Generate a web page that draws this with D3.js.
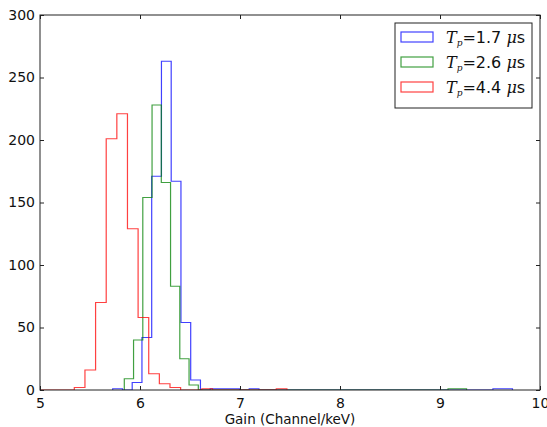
<!DOCTYPE html>
<html>
<head>
<meta charset="utf-8">
<script src="https://cdn.jsdelivr.net/npm/d3@7"></script>
<style>
  body { margin: 0; background: #fff; }
  svg text { font-family: "DejaVu Sans", sans-serif; }
</style>
</head>
<body>
<svg id="chart" width="547" height="427"></svg>
<script>
// Histogram data: bin start, bin width and counts per series
const seriesNames = ['1.7', '2.6', '4.4'];
const seriesColors = ['#0000ff', '#008000', '#ff0000'];

const blueStart = 5.727, blueWidth = 0.0975;
const blueCounts = [1, 0, 6, 42, 171, 263, 167, 54, 8, 0, 1, 1, 1, 0, 1,
  0, 0, 0, 0, 0, 0, 0, 0, 0, 0, 0, 0, 0, 0, 0, 0, 0, 0, 0, 0, 0, 0, 0, 0, 1, 1];

const greenStart = 5.843, greenWidth = 0.0925;
const greenCounts = [9, 40, 154, 228, 166, 83, 25, 4, 0, 0, 0, 0, 0, 0, 0,
  0, 0, 0, 0, 0, 0, 0, 0, 0, 0, 0, 0, 0, 0, 0, 0, 0, 0, 0, 0, 1, 1];

const redStart = 4.918, redWidth = 0.1063;
const redCounts = [0, 0, 0, 0, 2, 16, 70, 201, 221, 129, 58, 13, 5, 2, 0, 0, 1,
  0, 0, 0, 0, 0, 0, 1];

const xTicks = [5, 6, 7, 8, 9, 10];
const yTicks = [0, 50, 100, 150, 200, 250, 300];

const svg = d3.select('#chart');
const margin = { left: 40, right: 7, top: 15, bottom: 37 };
const width = +svg.attr('width');
const height = +svg.attr('height');

const x = d3.scaleLinear().domain([5, 10]).range([margin.left, width - margin.right]);
const y = d3.scaleLinear().domain([0, 300]).range([height - margin.bottom, margin.top]);

svg.append('clipPath').attr('id', 'plot-clip')
  .append('rect')
  .attr('x', x(5)).attr('y', y(300))
  .attr('width', x(10) - x(5)).attr('height', y(0) - y(300));

// step outline the way matplotlib draws histtype='step'
function stepPoints(start, w, counts) {
  const pts = [[start, 0]];
  counts.forEach((c, i) => {
    pts.push([start + i * w, c]);
    pts.push([start + (i + 1) * w, c]);
  });
  pts.push([start + counts.length * w, 0]);
  return pts;
}

const line = d3.line().x(d => x(d[0])).y(d => y(d[1]));
const series = [
  stepPoints(blueStart, blueWidth, blueCounts),
  stepPoints(greenStart, greenWidth, greenCounts),
  stepPoints(redStart, redWidth, redCounts)
];

const plot = svg.append('g').attr('clip-path', 'url(#plot-clip)');
series.forEach((pts, i) => {
  plot.append('path')
    .attr('d', line(pts))
    .attr('fill', 'none')
    .attr('stroke', seriesColors[i])
    .attr('stroke-opacity', 0.75)
    .attr('stroke-width', 1.2);
});

// axes, ticks pointing inward on all four sides
const axisColor = '#222';
const axBottom = svg.append('g').attr('transform', `translate(0,${y(0)})`)
  .call(d3.axisBottom(x).tickValues(xTicks).tickSizeInner(-4).tickSizeOuter(0).tickPadding(8).tickFormat(d3.format('d')));
const axTop = svg.append('g').attr('transform', `translate(0,${y(300)})`)
  .call(d3.axisTop(x).tickValues(xTicks).tickSizeInner(-4).tickSizeOuter(0).tickFormat(''));
const axLeft = svg.append('g').attr('transform', `translate(${x(5)},0)`)
  .call(d3.axisLeft(y).tickValues(yTicks).tickSizeInner(-4).tickSizeOuter(0).tickPadding(5));
const axRight = svg.append('g').attr('transform', `translate(${x(10)},0)`)
  .call(d3.axisRight(y).tickValues(yTicks).tickSizeInner(-4).tickSizeOuter(0).tickFormat(''));

[axBottom, axTop, axLeft, axRight].forEach(g => {
  g.select('.domain').remove();
  g.selectAll('line').attr('stroke', axisColor);
  g.selectAll('text').attr('font-size', 14).attr('fill', '#111')
    .style('font-family', '"DejaVu Sans", sans-serif');
});

svg.append('rect')
  .attr('x', x(5)).attr('y', y(300))
  .attr('width', x(10) - x(5)).attr('height', y(0) - y(300))
  .attr('fill', 'none').attr('stroke', axisColor).attr('stroke-width', 1);

svg.append('text')
  .attr('x', (x(5) + x(10)) / 2)
  .attr('y', height - 3)
  .attr('text-anchor', 'middle')
  .attr('font-size', 13.5)
  .attr('fill', '#111')
  .text('Gain (Channel/keV)');

// legend
const legend = svg.append('g').attr('transform', 'translate(395,23)');
legend.append('rect')
  .attr('width', 137).attr('height', 85)
  .attr('fill', '#fff').attr('stroke', axisColor).attr('stroke-width', 1);

seriesNames.forEach((name, i) => {
  const row = legend.append('g').attr('transform', `translate(0,${14 + i * 25})`);
  row.append('rect')
    .attr('x', 6).attr('y', -5).attr('width', 32).attr('height', 10)
    .attr('fill', 'none').attr('stroke', seriesColors[i])
    .attr('stroke-opacity', 0.75).attr('stroke-width', 1.2);
  const t = row.append('text').attr('x', 51).attr('y', 5.5).attr('font-size', 16).attr('fill', '#111');
  t.append('tspan').attr('font-family', '"DejaVu Serif", serif').attr('font-style', 'italic').text('T');
  t.append('tspan').attr('font-family', '"DejaVu Serif", serif').attr('font-style', 'italic')
    .attr('font-size', 9).attr('dy', 3.5).text('p');
  t.append('tspan').attr('dy', -3.5).text('=' + name + ' ');
  t.append('tspan').attr('font-family', '"DejaVu Serif", serif').attr('font-style', 'italic').text('μ');
  t.append('tspan').text('s');
});
</script>
</body>
</html>
